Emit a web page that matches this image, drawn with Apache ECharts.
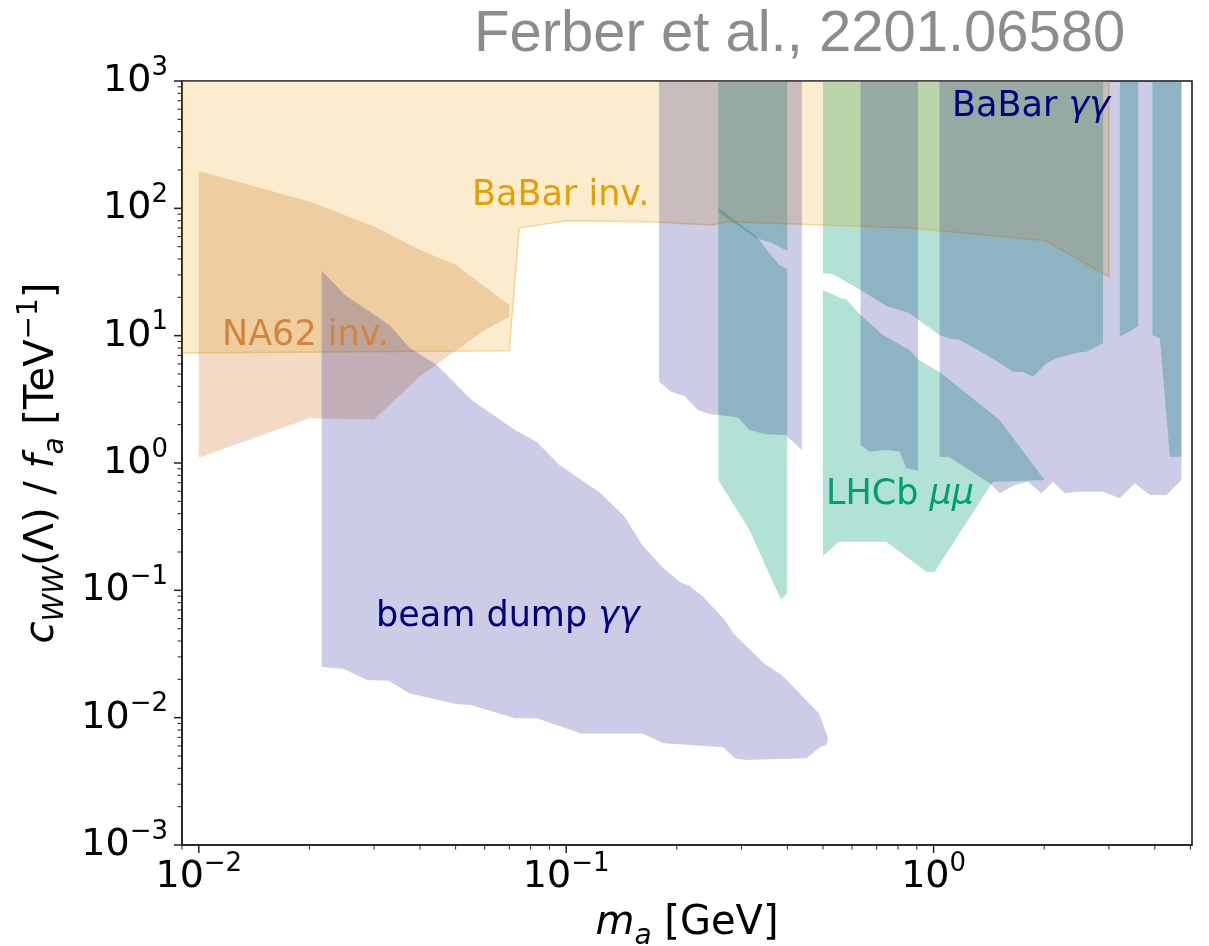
<!DOCTYPE html>
<html>
<head>
<meta charset="utf-8">
<script src="https://cdn.jsdelivr.net/npm/echarts@6/dist/echarts.min.js"></script>
<style>
  html, body { margin: 0; padding: 0; background: #fff; }
  #main { width: 1209px; height: 946px; }
</style>
</head>
<body>
<div id="main"></div>
<script>
// axis ranges: m_a [GeV] and c_WW/f_a [TeV^-1]
const xRange = [0.009, 5.05];
const yRange = [0.001, 1000];

// tick values
const xMajor = [0.01, 0.1, 1];
const xMinor = [0.009, 0.02, 0.03, 0.04, 0.05, 0.06, 0.07, 0.08, 0.09,
                0.2, 0.3, 0.4, 0.5, 0.6, 0.7, 0.8, 0.9, 2, 3, 4, 5];
const yMajor = [0.001, 0.01, 0.1, 1, 10, 100, 1000];
const minorMantissa = [2, 3, 4, 5, 6, 7, 8, 9];
const yDecades = [0.001, 0.01, 0.1, 1, 10, 100];

// excluded regions, [m_a, c/f_a] outlines
const babarInv = [[0.008, 1000], [0.008, 7.3], [0.07, 7.6], [0.0745, 70], [0.1, 80], [0.168, 78.5],
                  [0.25, 74], [0.273, 78.5], [0.86, 70], [2.0, 56], [3.0, 29], [3.0, 1000]];

const na62Inv = [[0.01, 196], [0.02, 113], [0.03, 72], [0.04, 47], [0.05, 36], [0.07, 17.4],
                 [0.07, 14.1], [0.06, 11.1], [0.04, 4.8], [0.03, 2.2], [0.02, 2.25], [0.01, 1.1]];

const beamDump = [[0.0216, 32.4], [0.025, 20.9], [0.0331, 12.1], [0.0375, 8.0], [0.0444, 5.9],
                  [0.0555, 3.1], [0.0726, 1.82], [0.0831, 1.47], [0.0961, 0.96], [0.124, 0.58],
                  [0.144, 0.38], [0.161, 0.227], [0.184, 0.149], [0.206, 0.114], [0.215, 0.11],
                  [0.236, 0.089], [0.27, 0.0585], [0.285, 0.046], [0.345, 0.0267], [0.386, 0.0216],
                  [0.488, 0.0108], [0.516, 0.0069], [0.51, 0.0061], [0.493, 0.0059], [0.451, 0.0048],
                  [0.337, 0.0047], [0.308, 0.00465], [0.288, 0.0048], [0.267, 0.00585], [0.184, 0.0063],
                  [0.161, 0.0075], [0.11, 0.0075], [0.0831, 0.0099], [0.0726, 0.0099], [0.0549, 0.0126],
                  [0.0502, 0.0128], [0.0375, 0.0155], [0.0328, 0.0195], [0.0287, 0.0198],
                  [0.0248, 0.0241], [0.0216, 0.0251]];

const babarGG1 = [[0.179, 1000], [0.179, 4.35], [0.193, 3.63], [0.21, 3.36], [0.228, 2.61], [0.245, 2.43],
                  [0.293, 2.29], [0.315, 1.82], [0.346, 1.69], [0.399, 1.65], [0.4, 1.61],
                  [0.438, 1.265], [0.438, 1000]];
const babarGG2 = [[0.6325, 1000], [0.6325, 1.385], [0.669, 1.23], [0.743, 1.265], [0.808, 1.23],
                  [0.8425, 0.909], [0.907, 0.87], [0.907, 1000]];
const babarGG3 = [[1.038, 1000], [1.038, 1.12], [1.105, 1.11], [1.403, 0.709], [1.421, 0.693],
                  [1.512, 0.578], [1.663, 0.672], [1.807, 0.713], [1.966, 0.578], [2.114, 0.713],
                  [2.275, 0.578], [2.448, 0.595], [2.893, 0.595], [3.213, 0.528], [3.529, 0.693],
                  [3.879, 0.561], [4.306, 0.561], [4.73, 0.735], [4.73, 1000]];

const lhcbUp1 = [[0.2595, 1000], [0.2595, 93.6], [0.3287, 58.5], [0.3612, 53.7], [0.3994, 46.5], [0.3994, 1000]];
const lhcbUp2 = [[0.4999, 1000], [0.4999, 30.9], [0.5317, 30.3], [0.6325, 22.8], [0.7433, 17.1],
                 [0.8603, 15.0], [0.91, 13.3], [1.038, 10.1], [1.105, 9.5], [1.177, 9.25], [1.421, 6.84],
                 [1.645, 5.21], [1.751, 5.18], [1.865, 4.76], [2.028, 6.07], [2.16, 6.64], [2.448, 7.35],
                 [2.607, 7.48], [2.893, 8.71], [2.893, 1000]];
const lhcbUp3 = [[3.213, 1000], [3.213, 9.8], [3.603, 11.8], [3.603, 1000]];
const lhcbUp4 = [[3.94, 1000], [3.94, 10.1], [4.129, 9.5], [4.396, 1.12], [4.73, 1.12], [4.73, 1000]];
const lhcbLow1 = [[0.2595, 100.6], [0.3287, 60.6], [0.3573, 44.4], [0.3806, 35.9], [0.3994, 33.2],
                  [0.3994, 0.0948], [0.3846, 0.084], [0.3152, 0.298], [0.2595, 0.735]];
const lhcbLow2 = [[0.4999, 22.8], [0.5603, 19.7], [0.5782, 19.3], [0.6325, 14.5], [0.7275, 10.1],
                  [0.8603, 7.72], [0.91, 6.44], [1.038, 5.18], [1.512, 2.18], [2.006, 0.735],
                  [1.448, 0.709], [1.006, 0.139], [0.9553, 0.14], [0.7433, 0.241], [0.552, 0.241],
                  [0.4999, 0.186]];

const GREEN = 'rgba(0,158,115,0.3)';
const ORANGE = 'rgba(230,159,0,0.2)';
const BROWN = 'rgba(213,132,60,0.3)';
const NAVY = 'rgba(0,0,128,0.2)';
const FONT = '"DejaVu Sans", sans-serif';

function region(name, pts, fill, stroke) {
    return {
        type: 'custom',
        name: name,
        data: pts,
        clip: true,
        silent: true,
        renderItem: function (params, api) {
            if (params.dataIndex !== 0) return;
            return {
                type: 'polygon',
                shape: { points: pts.map(function (p) { return api.coord(p); }) },
                style: { fill: fill, stroke: stroke || 'none', lineWidth: 1.5 }
            };
        }
    };
}

function ticks(values, horizontal, len, width) {
    return {
        type: 'custom',
        data: values.map(function (v) { return horizontal ? [v, yRange[0]] : [xRange[0], v]; }),
        clip: false,
        silent: true,
        z: 5,
        renderItem: function (params, api) {
            const p = api.coord([api.value(0), api.value(1)]);
            const shape = horizontal
                ? { x1: p[0], y1: p[1], x2: p[0], y2: p[1] + len }
                : { x1: p[0], y1: p[1], x2: p[0] - len, y2: p[1] };
            return { type: 'line', shape: shape, style: { stroke: '#222', lineWidth: width } };
        }
    };
}

const yMinor = [];
yDecades.forEach(function (d) { minorMantissa.forEach(function (m) { yMinor.push(+(m * d).toPrecision(3)); }); });

function powLabel(v) {
    const e = Math.log10(v);
    const r = Math.round(e);
    if (Math.abs(e - r) > 1e-6) return '';
    return '{b|10}{s|' + (r < 0 ? '\u2212' + (-r) : r) + '}';
}

const tickRich = {
    b: { fontFamily: FONT, fontSize: 38, lineHeight: 52, color: '#000' },
    s: { fontFamily: FONT, fontSize: 26, lineHeight: 26, verticalAlign: 'top', color: '#000' }
};

const nameRich = {
    n: { fontFamily: FONT, fontSize: 40, lineHeight: 54, color: '#000' },
    i: { fontFamily: FONT, fontSize: 40, lineHeight: 54, fontStyle: 'italic', color: '#000' },
    sub: { fontFamily: FONT, fontSize: 28, lineHeight: 32, fontStyle: 'italic', verticalAlign: 'bottom', color: '#000' },
    sup: { fontFamily: FONT, fontSize: 28, lineHeight: 32, verticalAlign: 'top', color: '#000' }
};

function label(x, y, text, color, rich) {
    return {
        type: 'text', x: x, y: y, z: 10,
        style: {
            text: text, fill: color, font: '35px ' + FONT,
            textAlign: 'left', textVerticalAlign: 'middle',
            rich: rich
        }
    };
}

const labelRich = function (color) {
    return {
        n: { fontFamily: FONT, fontSize: 35, color: color },
        g: { fontFamily: FONT, fontSize: 35, fontStyle: 'italic', color: color }
    };
};

const chart = echarts.init(document.getElementById('main'));
chart.setOption({
    animation: false,
    backgroundColor: '#fff',
    grid: {
        left: 182, right: 17, top: 81, bottom: 101,
        outerBoundsMode: 'none', containLabel: false,
        show: true, borderColor: '#111', borderWidth: 1.5
    },
    xAxis: {
        type: 'log', logBase: 10, min: xRange[0], max: xRange[1],
        axisLine: { show: true, lineStyle: { color: '#222', width: 1.6 } },
        axisTick: { show: false }, splitLine: { show: false },
        axisLabel: { formatter: powLabel, rich: tickRich, margin: 6 },
        name: '{i|m}{sub|a}{n| [GeV]}', nameLocation: 'middle', nameGap: 52,
        nameTextStyle: { rich: nameRich }
    },
    yAxis: {
        type: 'log', logBase: 10, min: yRange[0], max: yRange[1],
        axisLine: { show: true, lineStyle: { color: '#222', width: 1.6 } },
        axisTick: { show: false }, splitLine: { show: false },
        axisLabel: { formatter: powLabel, rich: tickRich, margin: 14 },
        name: '{i|c}{sub|WW}{n|(\u039B) / }{i|f}{sub|a}{n| [TeV}{sup|\u22121}{n|]}',
        nameLocation: 'middle', nameRotate: 90, nameGap: 112,
        nameTextStyle: { rich: nameRich }
    },
    graphic: [
        { type: 'text', x: 474, y: 35, z: 10,
          style: { text: 'Ferber et al., 2201.06580', fill: '#8c8c8c', font: '58px "Liberation Sans", Arial, sans-serif',
                   textAlign: 'left', textVerticalAlign: 'middle' } },
        label(472, 195.5, '{n|BaBar inv.}', '#E69F00', labelRich('#E69F00')),
        label(222, 335.5, '{n|NA62 inv.}', '#D5843C', labelRich('#D5843C')),
        label(376, 616.5, '{n|beam dump }{g|\u03B3\u03B3}', '#000080', labelRich('#000080')),
        label(826, 494.5, '{n|LHCb }{g|\u03BC\u03BC}', '#009E73', labelRich('#009E73')),
        label(952, 106.5, '{n|BaBar }{g|\u03B3\u03B3}', '#000080', labelRich('#000080'))
    ],
    series: [
        region('LHCb up 1', lhcbUp1, GREEN),
        region('LHCb up 2', lhcbUp2, GREEN),
        region('LHCb up 3', lhcbUp3, GREEN),
        region('LHCb up 4', lhcbUp4, GREEN),
        region('LHCb low 1', lhcbLow1, GREEN),
        region('LHCb low 2', lhcbLow2, GREEN),
        region('BaBar inv', babarInv, ORANGE, 'rgba(230,159,0,0.35)'),
        region('NA62 inv', na62Inv, BROWN),
        region('beam dump', beamDump, NAVY),
        region('BaBar gg 1', babarGG1, NAVY),
        region('BaBar gg 2', babarGG2, NAVY),
        region('BaBar gg 3', babarGG3, NAVY),
        ticks(xMajor, true, 8, 1.5),
        ticks(xMinor, true, 4.5, 1),
        ticks(yMajor, false, 8, 1.5),
        ticks(yMinor, false, 4.5, 1)
    ]
});
window.addEventListener('resize', function () { chart.resize(); });
</script>
</body>
</html>
